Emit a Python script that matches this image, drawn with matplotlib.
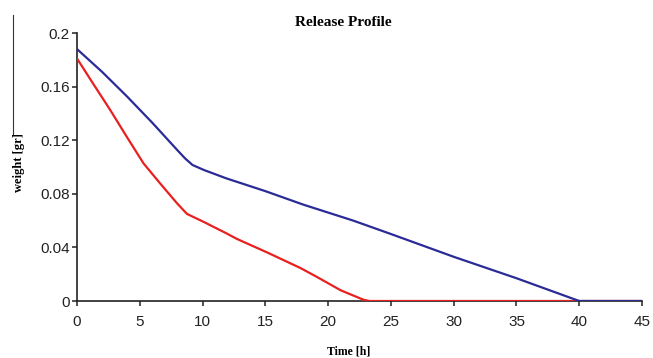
import matplotlib
matplotlib.use("Agg")
import matplotlib.pyplot as plt
from matplotlib.lines import Line2D
from matplotlib.ticker import FuncFormatter

# weight vs time
blue_t = [0, 2, 4, 6, 8, 8.6, 9.2, 10.1, 11.9, 15, 18, 19, 22, 25, 30, 35, 40, 45]
blue_w = [0.188, 0.171, 0.1525, 0.133, 0.1125, 0.1065, 0.1015, 0.0978, 0.0915, 0.082,
          0.072, 0.069, 0.060, 0.050, 0.033, 0.017, 0.0, 0.0]

red_t = [0, 1.3, 2.65, 4, 5.3, 6.6, 7.96, 8.76, 10.1, 11.9, 12.7, 15.2, 17.8, 19.1,
         21, 22.8, 23.3, 45]
red_w = [0.181, 0.162, 0.1425, 0.122, 0.1027, 0.088, 0.073, 0.065, 0.059, 0.0505,
         0.0465, 0.036, 0.0246, 0.018, 0.008, 0.001, 0.0, 0.0]

xticks = [0, 5, 10, 15, 20, 25, 30, 35, 40, 45]
yticks = [0, 0.04, 0.08, 0.12, 0.16, 0.2]


def draw():
    fig = plt.figure(figsize=(6.53, 3.58), dpi=100)
    ax = fig.add_axes([0.1179, 0.1592, 0.8653, 0.7486])

    ax.plot(red_t, red_w, color='#e8201f', lw=1.6, zorder=3)
    ax.plot(blue_t, blue_w, color='#2b2b98', lw=1.6, zorder=4)

    ax.set_xlim(0, 45)
    ax.set_ylim(0, 0.2)
    ax.set_xticks(xticks)
    ax.set_yticks(yticks)
    ax.yaxis.set_major_formatter(FuncFormatter(lambda v, p: '%g' % v))

    for s in ['top', 'right']:
        ax.spines[s].set_visible(False)
    for s in ['left', 'bottom']:
        ax.spines[s].set_linewidth(1.2)
        ax.spines[s].set_color('#222222')

    ax.tick_params(axis='x', direction='out', length=3.6, width=1.1, pad=6.5,
                   labelsize=11, colors='#222222')
    ax.tick_params(axis='y', direction='out', length=3.6, width=1.1, pad=1.5,
                   labelsize=11, colors='#222222')
    for lab in ax.get_xticklabels() + ax.get_yticklabels():
        lab.set_fontfamily('Liberation Sans')

    fig.text(343 / 653, 1 - 22 / 358, 'Release Profile', ha='center', va='center',
             family='Liberation Serif', weight='bold', fontsize=11)
    fig.text(349 / 653, 1 - 351 / 358, 'Time [h]', ha='center', va='center',
             family='Liberation Serif', weight='bold', fontsize=8.5)
    fig.text(19 / 653, 1 - 163 / 358, 'weight [gr]', ha='center', va='center',
             rotation=90, family='Liberation Serif', weight='bold', fontsize=9)

    # thin frame fragment at the far left
    fig.add_artist(Line2D([13 / 653, 13 / 653], [1 - 15 / 358, 1 - 135 / 358],
                          transform=fig.transFigure, color='#333333', lw=0.8))

    fig.savefig('out.png', dpi=100)
    plt.close(fig)


if __name__ == '__main__':
    draw()
